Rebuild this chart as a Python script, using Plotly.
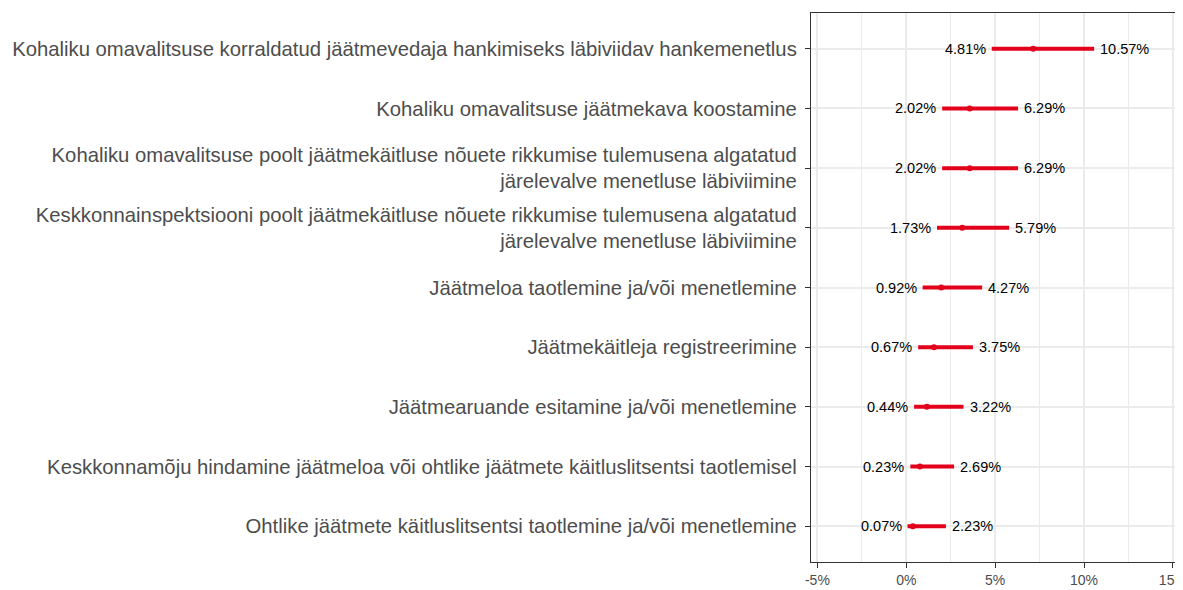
import plotly.graph_objects as go

categories = [
    "Kohaliku omavalitsuse korraldatud jäätmevedaja hankimiseks läbiviidav hankemenetlus",
    "Kohaliku omavalitsuse jäätmekava koostamine",
    "Kohaliku omavalitsuse poolt jäätmekäitluse nõuete rikkumise tulemusena algatatud<br>järelevalve menetluse läbiviimine",
    "Keskkonnainspektsiooni poolt jäätmekäitluse nõuete rikkumise tulemusena algatatud<br>järelevalve menetluse läbiviimine",
    "Jäätmeloa taotlemine ja/või menetlemine",
    "Jäätmekäitleja registreerimine",
    "Jäätmearuande esitamine ja/või menetlemine",
    "Keskkonnamõju hindamine jäätmeloa või ohtlike jäätmete käitluslitsentsi taotlemisel",
    "Ohtlike jäätmete käitluslitsentsi taotlemine ja/või menetlemine",
]
lower = [4.81, 2.02, 2.02, 1.73, 0.92, 0.67, 0.44, 0.23, 0.07]
estimate = [7.14, 3.57, 3.57, 3.15, 1.97, 1.56, 1.16, 0.77, 0.37]
upper = [10.57, 6.29, 6.29, 5.79, 4.27, 3.75, 3.22, 2.69, 2.23]
x_ticks = [-5, 0, 5, 10, 15]

RED = "#E3001B"
ys = list(range(len(categories)))[::-1]

fig = go.Figure()
fig.add_trace(go.Scatter(
    x=estimate, y=ys, mode="markers",
    marker=dict(color=RED, size=6),
    error_x=dict(type="data", symmetric=False,
                 array=[u - e for u, e in zip(upper, estimate)],
                 arrayminus=[e - l for e, l in zip(estimate, lower)],
                 color=RED, thickness=4, width=0),
    showlegend=False, hoverinfo="skip",
))

lab_font = dict(family="Arial", size=14.5, color="black")
for y, lo, hi in zip(ys, lower, upper):
    fig.add_annotation(x=lo, y=y, text=f"{lo:.2f}%", showarrow=False,
                       xanchor="right", yanchor="middle", xshift=-4, font=lab_font)
    fig.add_annotation(x=hi, y=y, text=f"{hi:.2f}%", showarrow=False,
                       xanchor="left", yanchor="middle", xshift=4, font=lab_font)

fig.update_layout(
    width=1175, height=582,
    margin=dict(l=803, r=0, t=5, b=28),
    plot_bgcolor="white", paper_bgcolor="white",
    font=dict(family="Arial", color="#4D4D4D"),
    xaxis=dict(
        range=[-5.36, 15.57], tickvals=x_ticks,
        ticktext=[f"{v}%" for v in x_ticks],
        tickfont=dict(size=14, color="#4D4D4D"),
        ticklabeloverflow="allow",
        showgrid=True, gridcolor="#EBEBEB", gridwidth=1.6,
        minor=dict(dtick=2.5, tick0=0, showgrid=True, gridcolor="#EBEBEB", gridwidth=0.9),
        zeroline=False, showline=True, linecolor="#333333", linewidth=1.3,
        mirror=True, ticks="outside", ticklen=5, tickcolor="#333333", tickwidth=1.3,
        automargin=False,
    ),
    yaxis=dict(
        range=[-0.6, 8.6], tickvals=ys, ticktext=categories,
        tickfont=dict(size=20.3, color="#4D4D4D"),
        showgrid=True, gridcolor="#EBEBEB", gridwidth=1.6,
        zeroline=False, showline=True, linecolor="#333333", linewidth=1.3,
        mirror=False, ticks="outside", ticklen=5, tickcolor="#333333", tickwidth=1.3,
        ticklabelstandoff=4,
        automargin=False,
    ),
)

fig.write_html("out.html")
